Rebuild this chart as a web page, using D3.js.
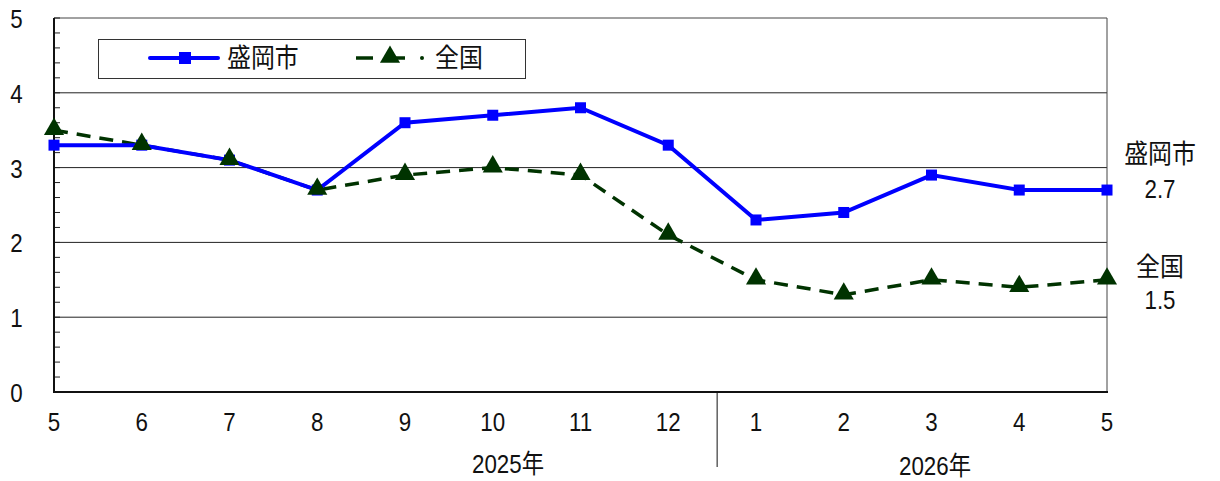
<!DOCTYPE html>
<html><head><meta charset="utf-8">
<script src="https://cdn.jsdelivr.net/npm/d3@7"></script>
<style>body{margin:0;background:#fff}svg{display:block}text{font-family:"Liberation Sans","Noto Sans CJK JP",sans-serif;fill:#111;font-weight:400}text.cjk{font-family:"Noto Sans CJK JP","Liberation Sans",sans-serif}</style>
</head><body>
<svg id="c" width="1220" height="481"></svg>
<script>
const months = ["5","6","7","8","9","10","11","12","1","2","3","4","5"];
const morioka = [3.3,3.3,3.1,2.7,3.6,3.7,3.8,3.3,2.3,2.4,2.9,2.7,2.7];
const zenkoku = [3.5,3.3,3.1,2.7,2.9,3.0,2.9,2.1,1.5,1.3,1.5,1.4,1.5];
const yTicks = [0,1,2,3,4,5];
const years = ["2025年","2026年"];
const seriesNames = ["盛岡市","全国"];

const svg = d3.select("#c");
const L=54,R=1107,T=18,B=392;
const FS=26, SX=0.86;
const x = d3.scaleLinear().domain([0,months.length-1]).range([L,R]);
const y = d3.scaleLinear().domain([0,5]).range([B,T]);
function txt(sel){ return sel.attr("font-size",FS); }
function place(px,py,sx){ return `translate(${px},${py}) scale(${sx||SX},1)`; }

svg.append("g").selectAll("line").data([1,2,3,4]).join("line")
  .attr("x1",L).attr("x2",R).attr("y1",d=>y(d)).attr("y2",d=>y(d))
  .attr("stroke","#222").attr("stroke-width",1);
svg.append("path").attr("d",`M${L},${y(5)}H${R}V${B}`).attr("fill","none").attr("stroke","#444").attr("stroke-width",1);
const minor = d3.range(0,5.01,0.2).map(v=>+v.toFixed(1));
svg.append("g").selectAll("line").data(minor).join("line")
  .attr("x1",L).attr("x2",L+6).attr("y1",d=>y(d)).attr("y2",d=>y(d))
  .attr("stroke","#222").attr("stroke-width",1);
svg.append("line").attr("x1",L).attr("x2",L).attr("y1",T).attr("y2",B).attr("stroke","#111").attr("stroke-width",2);
svg.append("line").attr("x1",L-1).attr("x2",R+1).attr("y1",B).attr("y2",B).attr("stroke","#111").attr("stroke-width",2);

svg.append("g").selectAll("text").data(yTicks).join("text").call(txt)
  .attr("transform",d=>place(16.5,y(d)+10)).attr("text-anchor","middle").text(d=>d);
svg.append("g").selectAll("text").data(months).join("text").call(txt)
  .attr("transform",(d,i)=>place(x(i),431)).attr("text-anchor","middle").text(d=>d);
const sepX = (x(7)+x(8))/2+5;
svg.append("line").attr("x1",sepX).attr("x2",sepX).attr("y1",B).attr("y2",467).attr("stroke","#111").attr("stroke-width",1);
svg.append("text").call(txt).attr("transform",place(508,473)).attr("text-anchor","middle").text(years[0]);
svg.append("text").call(txt).attr("transform",place(935,475)).attr("text-anchor","middle").text(years[1]);

const line = d3.line().x((d,i)=>x(i)).y(d=>y(d));
svg.append("path").datum(zenkoku).attr("d",line).attr("fill","none")
  .attr("stroke","#003300").attr("stroke-width",3.5).attr("stroke-dasharray","14,9");
svg.append("path").datum(morioka).attr("d",line).attr("fill","none")
  .attr("stroke","#0000ff").attr("stroke-width",4);
svg.append("g").selectAll("rect").data(morioka).join("rect")
  .attr("x",(d,i)=>x(i)-5.5).attr("y",d=>y(d)-5.5).attr("width",11).attr("height",11).attr("fill","#0000ff");
const tri = d3.symbol().type(d3.symbolTriangle).size(175);
svg.append("g").selectAll("path").data(zenkoku).join("path")
  .attr("d",tri).attr("transform",(d,i)=>`translate(${x(i)},${y(d)-1})`).attr("fill","#003300");

svg.append("rect").attr("x",98.5).attr("y",39.5).attr("width",427).attr("height",39).attr("fill","#fff").attr("stroke","#333").attr("stroke-width",1);
svg.append("line").attr("x1",150).attr("x2",218).attr("y1",58).attr("y2",58).attr("stroke","#0000ff").attr("stroke-width",4).attr("stroke-linecap","round");
svg.append("rect").attr("x",179).attr("y",52).attr("width",12).attr("height",12).attr("fill","#0000ff");
svg.append("text").attr("class","cjk").call(txt).attr("transform",place(227,67,0.92)).text(seriesNames[0]);
svg.append("line").attr("x1",356).attr("x2",373).attr("y1",58).attr("y2",58).attr("stroke","#003300").attr("stroke-width",3.5);
svg.append("line").attr("x1",385).attr("x2",405).attr("y1",58).attr("y2",58).attr("stroke","#003300").attr("stroke-width",3.5);
svg.append("path").attr("d",tri).attr("transform","translate(390,57)").attr("fill","#003300");
svg.append("circle").attr("cx",422).attr("cy",58).attr("r",2).attr("fill","#003300");
svg.append("text").attr("class","cjk").call(txt).attr("transform",place(435,67,0.92)).text(seriesNames[1]);

svg.append("text").attr("class","cjk").call(txt).attr("transform",place(1160,163,0.92)).attr("text-anchor","middle").text(seriesNames[0]);
svg.append("text").call(txt).attr("transform",place(1160,198)).attr("text-anchor","middle").text(morioka[morioka.length-1].toFixed(1));
svg.append("text").attr("class","cjk").call(txt).attr("transform",place(1160,276,0.92)).attr("text-anchor","middle").text(seriesNames[1]);
svg.append("text").call(txt).attr("transform",place(1160,309)).attr("text-anchor","middle").text(zenkoku[zenkoku.length-1].toFixed(1));
</script>
</body></html>
